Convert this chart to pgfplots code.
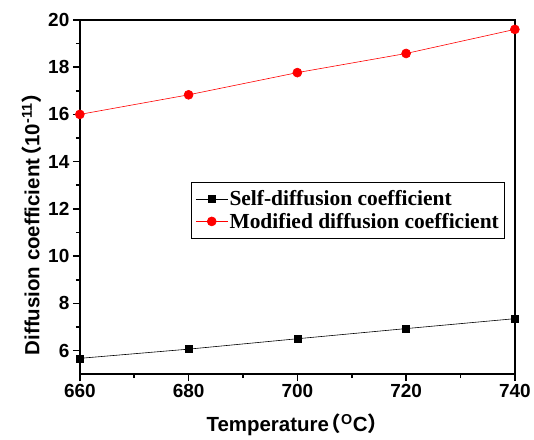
\documentclass[border=0pt]{standalone}
\usepackage{fontspec}
\setmainfont{Liberation Sans}
\newfontfamily\timesf{Liberation Serif}
\newfontfamily\cjk{Noto Sans CJK SC}
\usepackage{pgfplots}
\pgfplotsset{compat=1.18}
\begin{document}
\begin{tikzpicture}
\begin{axis}[
  scale only axis,
  width=436pt, height=355pt,
  xmin=660, xmax=740, ymin=5, ymax=20,
  xtick={660,680,...,740}, ytick={6,8,...,20},
  minor x tick num=1, minor y tick num=1,
  tick align=outside,
  xtick pos=left, ytick pos=left,
  major tick length=7pt, minor tick length=4pt,
  every tick/.style={black, line width=1.6pt},
  axis line style={line width=2.2pt},
  /pgf/number format/assume math mode=true,
  /pgf/number format/1000 sep={},
  ticklabel style={font=\fontsize{19}{21}\selectfont\bfseries},
  xlabel={\fontsize{20.5}{23}\selectfont\bfseries Temperature\kern-0.4em{\cjk（}\textsuperscript{O}C{\cjk）}},
  ylabel={\fontsize{20.5}{23}\selectfont\bfseries Diffusion coefficient\kern-0.4em{\cjk（}10\textsuperscript{-11}{\cjk）}},
  xlabel style={yshift=-9pt},
  ylabel style={yshift=0pt, xshift=-22pt},
  legend style={at={(0.256,0.383)}, anchor=south west, draw=black, line width=0.6pt,
    font=\timesf\fontsize{21.5}{24}\selectfont\bfseries, inner xsep=4pt, inner ysep=7pt,
    row sep=3pt, nodes={inner sep=1.5pt}},
  legend image code/.code={%
    \draw[#1, mark repeat=2, mark phase=2] plot coordinates {(0pt,0pt) (16pt,0pt) (32pt,0pt)};},
  legend cell align=left,
  clip=false,
]
\addplot[black, line width=0.6pt, mark=square*, mark size=3.5pt, mark options={solid}]
  coordinates {(660,5.67) (680,6.06) (700,6.5) (720,6.93) (740,7.35)};
\addlegendentry{Self-diffusion coefficient}
\addplot[red, line width=0.6pt, mark=*, mark size=4.5pt]
  coordinates {(660,16.0) (680,16.83) (700,17.77) (720,18.58) (740,19.6)};
\addlegendentry{Modified diffusion coefficient}
\end{axis}
\path[use as bounding box] (current axis.south west) ++(-80pt,-64pt) rectangle ([shift={(18pt,20pt)}]current axis.north east);
\end{tikzpicture}
\end{document}
